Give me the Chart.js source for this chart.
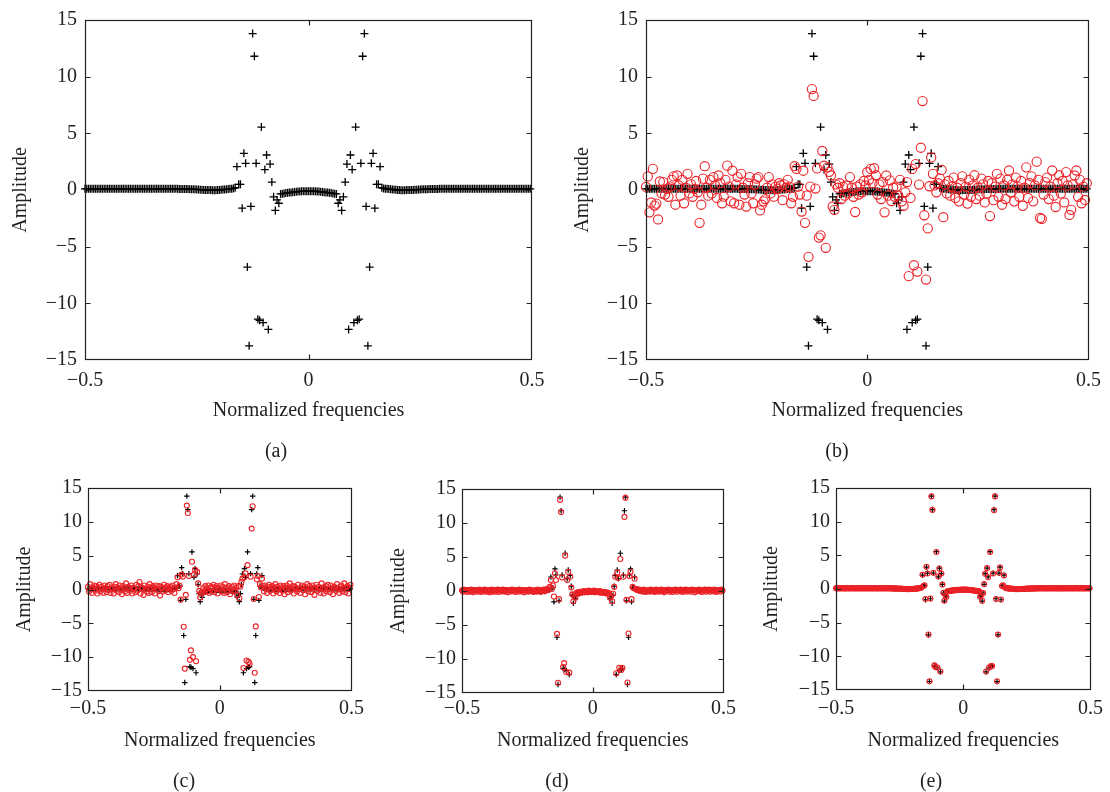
<!DOCTYPE html>
<html>
<head>
<meta charset="utf-8">
<script src="https://cdn.jsdelivr.net/npm/chart.js@4.4.1/dist/chart.umd.min.js"></script>
<style>
  html, body { margin: 0; padding: 0; background: #fff; }
  #page { position: relative; width: 1110px; height: 792px; overflow: hidden; font-family: "Liberation Serif", "DejaVu Serif", serif; }
  .panel { position: absolute; }
  .cap { position: absolute; transform: translate(-50%, -50%); font-size: 20px; color: #231f20; white-space: nowrap; }
</style>
</head>
<body>
<div id="page"></div>
<script>
const freqTicks = [-0.5, 0, 0.5];
const ampTicks = [-15, -10, -5, 0, 5, 10, 15];
const binCount = 256;
// DFT bin frequencies, -0.5 .. 0.5-1/256
const freqs = Array.from({ length: binCount }, (_, i) => (i - binCount / 2) / binCount);

// true spectrum (black +), bins -128..127
const trueAmp = [
  0.1, 0.1, 0.1, 0.1, 0.1, 0.1, 0.1, 0.1, 0.1, 0.1, 0.1, 0.1, 0.1, 0.1, 0.1, 0.1,
  0.1, 0.1, 0.1, 0.1, 0.1, 0.1, 0.1, 0.1, 0.1, 0.1, 0.1, 0.1, 0.1, 0.1, 0.1, 0.1,
  0.1, 0.1, 0.1, 0.1, 0.1, 0.1, 0.1, 0.1, 0.1, 0.1, 0.1, 0.1, 0.1, 0.1, 0.1, 0.1,
  0.1, 0.1, 0.1, 0.1, 0.1, 0.1, 0.09, 0.09, 0.09, 0.08, 0.08, 0.08, 0.07, 0.07, 0.06, 0.06,
  0.05, 0.04, 0.03, 0.02, 0.01, 0, 0, -0.01, -0.01, -0.02, -0.02, -0.02, -0.01, 0, 0.02, 0.04,
  0.05, 0.06, 0.08, 0.1, 0.12, 0.14, 0.2, 2.06, 0.5, 0.5, -1.6, 3.24, 2.35, -6.8, -13.75, -1.45,
  13.8, 11.8, 2.35, -11.4, -11.5, 5.55, -11.7, 1.8, 3.09, -12.3, 2.29, 0.7, -0.6, -1.8, -0.88, -1.17,
  -0.35, -0.32, -0.3, -0.27, -0.25, -0.23, -0.21, -0.19, -0.17, -0.16, -0.14, -0.13, -0.12, -0.11, -0.1, -0.1,
  -0.1, -0.1, -0.1, -0.11, -0.12, -0.13, -0.14, -0.16, -0.17, -0.19, -0.21, -0.23, -0.25, -0.27, -0.3, -0.32,
  -0.35, -1.17, -0.88, -1.8, -0.6, 0.7, 2.29, -12.3, 3.09, 1.8, -11.7, 5.55, -11.5, -11.4, 2.35, 11.8,
  13.8, -1.45, -13.75, -6.8, 2.35, 3.24, -1.6, 0.5, 0.5, 2.06, 0.2, 0.14, 0.12, 0.1, 0.08, 0.06,
  0.05, 0.04, 0.02, 0, -0.01, -0.02, -0.02, -0.02, -0.01, -0.01, 0, 0, 0.01, 0.02, 0.03, 0.04,
  0.05, 0.06, 0.06, 0.07, 0.07, 0.08, 0.08, 0.08, 0.09, 0.09, 0.09, 0.1, 0.1, 0.1, 0.1, 0.1,
  0.1, 0.1, 0.1, 0.1, 0.1, 0.1, 0.1, 0.1, 0.1, 0.1, 0.1, 0.1, 0.1, 0.1, 0.1, 0.1,
  0.1, 0.1, 0.1, 0.1, 0.1, 0.1, 0.1, 0.1, 0.1, 0.1, 0.1, 0.1, 0.1, 0.1, 0.1, 0.1,
  0.1, 0.1, 0.1, 0.1, 0.1, 0.1, 0.1, 0.1, 0.1, 0.1, 0.1, 0.1, 0.1, 0.1, 0.1, 0.1
];

// estimate (b), red circles
const estB = [
  0.27, 1.2, -1.97, -1.1, 1.86, -1.37, -1.2, -2.6, 0.75, -0.3, 0.7, -0.4, 0.1, -0.6, 0.3, 0.9,
  1.2, -1.3, 1.28, 0.4, -0.5, 0.9, -1.17, 0.2, 1.43, -0.3, 0.5, -0.6, 0.1, 0.8, -0.2, -2.9,
  -1.3, 1.0, 2.1, 0.2, -0.5, 0.9, -0.3, 1.14, 0.4, -0.7, 1.28, 0.6, -1.17, -0.59, 0.9, 2.15,
  0.3, -1.0, 1.7, -1.17, 0.5, 1.14, -1.3, 1.43, 0.2, -0.4, -1.46, 0.6, 1.14, -0.3, -1.17, 0.5,
  1.0, 1.14, -1.8, -1.3, -1.0, -0.8, 0.2, 1.14, -0.3, 0.5, -0.59, 0.3, 0.1, 0.6, 0.4, -0.9,
  0.5, 0.2, 0.9, 0.3, -1.17, -0.6, 2.1, 1.86, 0.3, -0.4, -1.9, 1.7, -2.9, -0.5, -5.9, 0.3,
  8.9, 8.3, 0.13, 1.9, -4.2, -4.0, 3.44, 2.14, -5.1, 2.0, 1.6, 1.28, -1.45, -1.75, 0.5, 0.2,
  0.6, -0.8, 0.3, -0.5, 0.4, -0.3, 1.14, 0.2, -0.6, -1.94, 0.3, -0.4, 0.5, -0.2, 0.8, 0.4,
  1.57, 0.9, 1.86, 0.6, 1.92, 1.3, -0.4, 0.5, -0.8, 0.7, -1.97, 1.28, -0.5, 0.85, -0.97, 0.2,
  -0.6, 0.3, -0.5, 0.9, -1.0, -1.4, -0.2, 0.7, -7.6, -0.7, 1.86, -6.64, 2.29, -7.2, 0.48, 3.73,
  7.85, -2.23, -7.9, -3.39, 0.33, 2.87, 1.43, 0.4, -0.2, 0.6, 1.0, 1.77, -2.4, 0.5, -0.3, 0.8,
  -0.5, 0.3, 1.1, -0.7, 0.2, -1.0, 0.6, 1.2, -0.4, 0.3, -1.2, 0.9, -0.6, 0.4, 1.3, -0.8,
  0.2, -0.5, 1.0, 0.5, -1.1, -0.3, 0.8, -2.3, 0.6, -0.9, 0.3, 1.43, -0.6, 1.0, -1.3, 0.4,
  -0.8, 0.9, 1.72, -0.2, 0.5, -1.0, 1.1, 0.3, -0.6, 0.8, -1.4, 0.2, 2.0, -0.7, 0.6, 1.2,
  -1.0, 0.4, 2.5, 0.9, -2.47, -2.55, -0.4, 0.7, 1.1, -0.8, 0.3, 1.72, -0.5, -1.5, 0.6, 1.3,
  -0.3, 0.8, -1.1, 1.58, 0.4, -2.2, -1.75, 0.5, 1.28, 1.72, -0.6, 0.9, -1.17, 0.3, -0.88, 0.6
];

// estimate (c)
const estC = [
  0.4, -0.3, 0.8, 0.1, -0.5, 0.3, 0.6, -0.2, 0.5, -0.6, 0.2, 0.7, -0.3, 0.4, 0.1, -0.5,
  0.6, 0.2, -0.4, 0.5, -0.1, 0.7, -0.5, 0.3, 0.1, -0.6, 0.4, 0.8, -0.2, 0.3, -0.4, 0.6,
  0.1, -0.7, 0.5, 0.2, -0.3, 0.9, -0.5, 0.4, 0.2, -0.2, 0.6, -0.6, 0.3, 0.1, -0.4, 0.7,
  -0.2, 0.5, 1.1, -0.6, 0.3, 0.2, -0.8, 0.6, 0.1, -0.3, 0.4, -0.5, 0.8, 0.2, -0.4, 0.5,
  0.3, -0.6, 0.6, 0.1, -0.2, 0.5, -0.9, 0.4, 0.2, -0.3, 0.7, -0.1, 0.3, 0.5, -0.4, 0.2,
  0.4, -0.2, 0.6, 0.1, -0.5, 0.3, 0.8, 1.8, 0.2, 0.6, -1.5, 2.2, 1.9, -5.5, -11.7, -0.8,
  12.4, 11.3, 2.0, -10.4, -9.0, 4.1, -10.0, 2.2, 2.9, -10.6, 2.6, 0.9, -0.2, -1.2, -0.5, -0.3,
  0.2, -0.4, 0.5, 0.1, -0.3, 0.6, -0.5, 0.3, 0.4, -0.2, 0.7, -0.4, 0.2, 0.5, -0.6, 0.3,
  0.1, 0.6, -0.3, 0.4, -0.5, 0.8, 0.2, -0.4, 0.3, 0.5, -0.7, 0.1, 0.4, -0.3, 0.6, -0.2,
  0.3, -0.8, 0.5, -1.3, 0.4, 1.1, 1.6, -11.6, 1.8, 2.4, -10.5, 3.6, -10.7, -11.0, 1.9, 9.0,
  12.3, -1.4, -12.3, -5.45, 1.5, 2.0, -1.1, 0.8, 0.3, 1.6, 0.5, -0.3, 0.6, 0.2, -0.5, 0.4,
  0.7, -0.2, 0.3, 0.5, -0.6, 0.2, 0.8, -0.3, 0.4, 0.1, -0.5, 0.6, 0.3, -0.2, 0.5, -0.7,
  0.2, 0.6, -0.4, 0.3, 0.9, -0.2, 0.1, 0.5, -0.6, 0.4, 0.2, -0.3, 0.7, 0.1, -0.5, 0.3,
  0.6, -0.1, 0.4, -0.7, 0.2, 0.8, -0.3, 0.5, 0.1, -0.4, 0.6, 0.3, -0.8, 0.2, 0.7, -0.2,
  0.4, 0.1, -0.5, 0.9, 0.3, -0.6, 0.2, 0.5, -0.3, 0.7, 0.1, -0.4, 0.6, 0.2, -0.7, 0.4,
  0.3, -0.2, 0.8, 0.1, -0.5, 0.4, 0.6, -0.3, 0.2, 0.9, -0.4, 0.3, 0.5, -0.6, 0.2, 0.7
];

// estimate (d)
const estD = [
  0.1, -0.1, 0.2, 0.0, 0.15, -0.15, 0.1, 0.05, -0.1, 0.2, 0.0, -0.2, 0.1, 0.15, -0.05, 0.1,
  -0.1, 0.2, 0.05, -0.15, 0.1, 0.0, 0.2, -0.1, 0.15, -0.05, 0.1, -0.2, 0.05, 0.2, -0.1, 0.0,
  0.15, -0.1, 0.1, 0.2, -0.15, 0.05, 0.1, -0.05, 0.2, 0.0, -0.1, 0.15, 0.1, -0.2, 0.05, 0.1,
  -0.05, 0.2, 0.0, 0.1, -0.15, 0.15, 0.05, -0.1, 0.2, 0.1, -0.05, 0.0, 0.15, -0.2, 0.1, 0.05,
  0.1, -0.1, 0.2, 0.0, 0.15, -0.05, -0.15, 0.1, 0.05, -0.1, 0.2, 0.0, 0.1, -0.15, 0.15, 0.05,
  0.2, -0.05, 0.1, 0.3, 0.1, 0.4, 0.6, 1.6, 0.3, 0.8, -0.8, 2.6, 1.6, -6.3, -13.5, -1.2,
  13.4, 11.6, 2.0, -11.2, -10.6, 5.2, -11.9, 1.6, 2.8, -12.0, 2.1, 0.5, -0.5, -1.5, -0.6, -1.0,
  -0.3, -0.2, -0.4, -0.1, -0.3, -0.1, -0.2, 0.0, -0.2, -0.1, 0.0, -0.2, 0.05, -0.1, -0.15, 0.0,
  -0.1, 0.05, -0.2, -0.1, 0.0, -0.15, -0.2, 0.0, -0.25, -0.1, -0.3, -0.15, -0.2, -0.35, -0.2, -0.4,
  -0.3, -1.0, -0.7, -1.5, -0.4, 0.6, 2.1, -12.1, 2.7, 1.9, -11.3, 4.7, -11.6, -11.3, 2.1, 10.9,
  13.7, -1.3, -13.45, -6.25, 2.2, 2.8, -1.2, 0.6, 0.4, 1.8, 0.3, 0.2, 0.1, 0.25, 0.0, 0.15,
  0.1, -0.1, 0.2, 0.05, -0.15, 0.1, 0.0, 0.15, -0.1, 0.2, 0.05, -0.05, 0.1, -0.15, 0.2, 0.0,
  0.15, -0.1, 0.05, 0.2, -0.05, 0.1, -0.2, 0.15, 0.0, 0.1, 0.2, -0.1, 0.05, 0.15, -0.15, 0.1,
  0.0, 0.2, -0.1, 0.1, 0.15, -0.05, 0.2, 0.0, -0.15, 0.1, 0.05, 0.2, -0.1, 0.1, 0.0, 0.15,
  -0.1, 0.2, 0.05, 0.1, -0.2, 0.15, 0.0, 0.1, 0.2, -0.05, 0.1, -0.15, 0.15, 0.05, 0.2, -0.1,
  0.1, 0.0, 0.2, -0.1, 0.15, 0.05, -0.05, 0.2, 0.1, -0.15, 0.0, 0.15, 0.1, -0.1, 0.2, 0.05
];

// estimate (e), almost on top of the true values
const estE = [
  0.12, 0.09, 0.11, 0.1, 0.08, 0.12, 0.1, 0.11, 0.09, 0.1, 0.12, 0.08, 0.11, 0.1, 0.09, 0.12,
  0.1, 0.11, 0.08, 0.12, 0.1, 0.09, 0.11, 0.1, 0.12, 0.09, 0.1, 0.11, 0.08, 0.1, 0.12, 0.1,
  0.09, 0.11, 0.1, 0.12, 0.08, 0.1, 0.11, 0.09, 0.12, 0.1, 0.1, 0.08, 0.11, 0.12, 0.09, 0.1,
  0.11, 0.1, 0.09, 0.12, 0.1, 0.08, 0.1, 0.11, 0.07, 0.09, 0.1, 0.06, 0.08, 0.07, 0.05, 0.07,
  0.04, 0.05, 0.02, 0.03, 0.0, 0.01, -0.01, 0.0, -0.02, -0.01, -0.03, -0.01, 0.0, 0.01, 0.03, 0.03,
  0.06, 0.05, 0.09, 0.1, 0.13, 0.14, 0.22, 2.1, 0.45, 0.55, -1.5, 3.3, 2.3, -6.75, -13.7, -1.4,
  13.75, 11.75, 2.4, -11.35, -11.6, 5.5, -11.65, 1.85, 3.05, -12.25, 2.3, 0.65, -0.55, -1.75, -0.9, -1.2,
  -0.34, -0.33, -0.29, -0.28, -0.24, -0.24, -0.2, -0.2, -0.16, -0.17, -0.13, -0.14, -0.11, -0.12, -0.09, -0.11,
  -0.1, -0.09, -0.11, -0.1, -0.13, -0.12, -0.15, -0.15, -0.18, -0.18, -0.22, -0.22, -0.26, -0.26, -0.31, -0.31,
  -0.36, -1.15, -0.9, -1.75, -0.62, 0.72, 2.25, -12.25, 3.1, 1.75, -11.65, 5.5, -11.45, -11.45, 2.3, 11.7,
  13.75, -1.5, -13.7, -6.75, 2.4, 3.2, -1.55, 0.45, 0.55, 2.0, 0.21, 0.13, 0.13, 0.09, 0.09, 0.05,
  0.06, 0.03, 0.03, 0.01, 0.0, -0.03, -0.01, -0.02, 0.0, -0.01, 0.01, -0.01, 0.02, 0.01, 0.04, 0.03,
  0.06, 0.05, 0.07, 0.06, 0.08, 0.07, 0.09, 0.08, 0.1, 0.09, 0.08, 0.11, 0.1, 0.09, 0.12, 0.1,
  0.11, 0.09, 0.1, 0.12, 0.08, 0.1, 0.11, 0.1, 0.09, 0.12, 0.1, 0.11, 0.08, 0.1, 0.12, 0.09,
  0.1, 0.11, 0.09, 0.12, 0.1, 0.08, 0.11, 0.1, 0.12, 0.09, 0.1, 0.11, 0.1, 0.08, 0.12, 0.1,
  0.09, 0.11, 0.1, 0.12, 0.08, 0.1, 0.11, 0.09, 0.12, 0.1, 0.1, 0.08, 0.11, 0.12, 0.09, 0.1
];

// panel layout: box = canvas [left, top, w, h], area = plot frame [l, t, r, b] in page px
const panels = [
  { cap: '(a)', est: null, big: true,  box: [0, 0, 555, 470],     area: [85, 13, 532, 360],   tickY: 381, titleY: 411, ylabX: 21,  capXY: [276, 450] },
  { cap: '(b)', est: estB, big: true,  box: [555, 0, 555, 470],   area: [646, 13, 1093, 360], tickY: 381, titleY: 411, ylabX: 583, capXY: [837, 450] },
  { cap: '(c)', est: estC, big: false, box: [0, 470, 370, 322],   area: [88, 487, 353, 691],  tickY: 709, titleY: 741, ylabX: 25,  capXY: [184, 780] },
  { cap: '(d)', est: estD, big: false, box: [370, 470, 370, 322], area: [462, 489, 724, 693], tickY: 709, titleY: 741, ylabX: 399, capXY: [557, 780] },
  { cap: '(e)', est: estE, big: false, box: [740, 470, 370, 322], area: [836, 486, 1100, 690], tickY: 709, titleY: 741, ylabX: 772, capXY: [931, 780] }
];

const FONT = { family: '"Liberation Serif", "DejaVu Serif", serif', size: 20 };
const LINE = FONT.size * 1.2;
const TEXT = '#231f20';
const RED = '#ec2227';

function fmt(v) {
  return (v < 0 ? '\u2212' : '') + Math.abs(v);
}

// box frame with ticks pointing inwards, like the matlab axes
const framePlugin = {
  id: 'frame',
  afterDatasetsDraw(chart) {
    const { ctx, chartArea: a, scales } = chart;
    const l = Math.round(a.left) + 0.5, r = Math.round(a.right) - 0.5;
    const t = Math.round(a.top) + 0.5, b = Math.round(a.bottom) - 0.5;
    ctx.save();
    ctx.strokeStyle = '#222';
    ctx.lineWidth = 1.2;
    ctx.strokeRect(l, t, r - l, b - t);
    ctx.beginPath();
    freqTicks.slice(1, -1).forEach(v => {
      const px = Math.round(scales.x.getPixelForValue(v)) + 0.5;
      ctx.moveTo(px, b); ctx.lineTo(px, b - 5);
      ctx.moveTo(px, t); ctx.lineTo(px, t + 5);
    });
    ampTicks.slice(1, -1).forEach(v => {
      const py = Math.round(scales.y.getPixelForValue(v)) + 0.5;
      ctx.moveTo(l, py); ctx.lineTo(l + 5, py);
      ctx.moveTo(r, py); ctx.lineTo(r - 5, py);
    });
    ctx.stroke();
    ctx.restore();
  }
};

const page = document.getElementById('page');

panels.forEach(p => {
  const [bx, by, bw, bh] = p.box;
  const [al, at, ar, ab] = p.area;

  const wrap = document.createElement('div');
  wrap.className = 'panel';
  wrap.style.left = bx + 'px';
  wrap.style.top = by + 'px';
  const canvas = document.createElement('canvas');
  canvas.width = bw;
  canvas.height = bh;
  wrap.appendChild(canvas);
  page.appendChild(wrap);

  const cap = document.createElement('div');
  cap.className = 'cap';
  cap.textContent = p.cap;
  cap.style.left = p.capXY[0] + 'px';
  cap.style.top = p.capXY[1] + 'px';
  page.appendChild(cap);

  const datasets = [];
  if (p.est) {
    datasets.push({
      label: 'estimate',
      data: freqs.map((f, i) => ({ x: f, y: p.est[i] })),
      pointStyle: 'circle',
      pointRadius: p.big ? 4.6 : 2.5,
      borderColor: RED,
      backgroundColor: 'rgba(0,0,0,0)',
      borderWidth: 1.1,
      showLine: false,
      clip: false
    });
  }
  datasets.push({
    label: 'true',
    data: freqs.map((f, i) => ({ x: f, y: trueAmp[i] })),
    pointStyle: 'cross',
    pointRadius: p.big ? 4 : 2.7,
    borderColor: '#000',
    backgroundColor: '#000',
    borderWidth: p.big ? 1.3 : 1.2,
    showLine: false,
    clip: false
  });

  new Chart(canvas, {
    type: 'scatter',
    data: { datasets },
    options: {
      responsive: false,
      devicePixelRatio: 1,
      animation: false,
      events: [],
      layout: { padding: { left: 0, top: at - by, right: bx + bw - ar, bottom: 0 } },
      plugins: { legend: { display: false }, tooltip: { enabled: false } },
      scales: {
        x: {
          type: 'linear',
          position: 'bottom',
          min: -0.5,
          max: 0.5,
          afterBuildTicks: s => { s.ticks = freqTicks.map(v => ({ value: v })); },
          afterFit: s => { s.height = by + bh - ab; },
          grid: { display: false, drawTicks: false },
          border: { display: false },
          ticks: { callback: fmt, font: FONT, color: TEXT, padding: p.tickY - ab - LINE / 2, maxRotation: 0, autoSkip: false },
          title: { display: true, text: 'Normalized frequencies', font: FONT, color: TEXT,
                   padding: { top: 0, bottom: by + bh - p.titleY - LINE / 2 } }
        },
        y: {
          type: 'linear',
          min: -15,
          max: 15,
          afterBuildTicks: s => { s.ticks = ampTicks.map(v => ({ value: v })); },
          afterFit: s => { s.width = al - bx; },
          grid: { display: false, drawTicks: false },
          border: { display: false },
          ticks: { callback: fmt, font: FONT, color: TEXT, padding: p.big ? 8 : 6 },
          title: { display: true, text: 'Amplitude', font: FONT, color: TEXT,
                   padding: { top: p.ylabX - bx - LINE / 2, bottom: 0 } }
        }
      }
    },
    plugins: [framePlugin]
  });
});
</script>
</body>
</html>
